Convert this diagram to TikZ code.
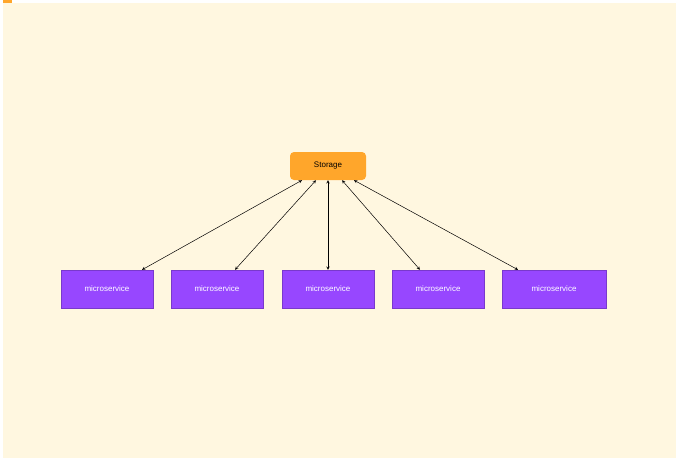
\documentclass[tikz,border=0pt]{standalone}
\usepackage{fontspec}
\setmainfont{Liberation Sans}
\usetikzlibrary{calc}
\definecolor{cream}{HTML}{FFF7E0}
\definecolor{storageorange}{HTML}{FFA62B}
\definecolor{servicepurple}{HTML}{9747FF}
\tikzset{
  svcbox/.style={draw=servicepurple!80!black,fill=servicepurple,text=white,
    minimum width=92pt,minimum height=38pt,inner sep=0pt,font=\fontsize{8}{10}\selectfont},
  storebox/.style={fill=storageorange,rounded corners=4pt,text=black,
    minimum width=76pt,minimum height=28pt,inner sep=0pt,font=\fontsize{8}{10}\selectfont},
  link/.style={<->,>=stealth,line width=0.5pt}
}
\begin{document}
\begin{tikzpicture}[x=1pt,y=-1pt]
  \useasboundingbox (0,0) rectangle (679,461);
  \fill[white] (0,0) rectangle (679,461);
  \fill[cream] (3,3) rectangle (676,458);
  \fill[storageorange] (3,0) rectangle (12,3);

  \node (storage) [storebox] at (328,166) {Storage};

  \node (ms1) [svcbox] at (107,289) {microservice};
  \node (ms2) [svcbox] at (217,289) {microservice};
  \node (ms3) [svcbox] at (328,289) {microservice};
  \node (ms4) [svcbox] at (438,289) {microservice};
  \node (ms5) [svcbox,minimum width=104pt] at (554,289) {microservice};

  \draw[link] ($(storage.south)+(-26,0)$) -- ($(ms1.north)+(35,0)$);
  \draw[link] ($(storage.south)+(-12,0)$) -- ($(ms2.north)+(18,0)$);
  \draw[link] (storage.south) -- (ms3.north);
  \draw[link] ($(storage.south)+(14,0)$) -- ($(ms4.north)+(-18,0)$);
  \draw[link] ($(storage.south)+(26,0)$) -- ($(ms5.north)+(-36,0)$);
\end{tikzpicture}
\end{document}
